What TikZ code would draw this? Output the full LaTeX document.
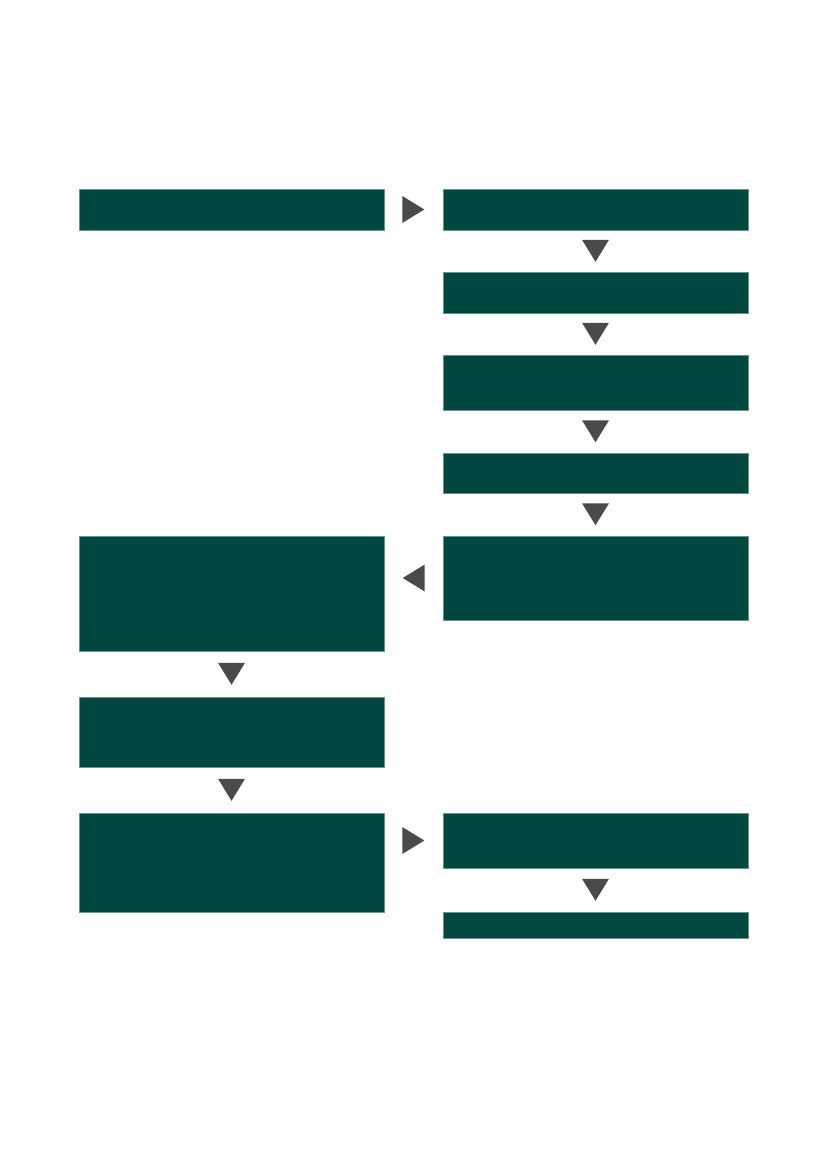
\documentclass[tikz,border=0pt]{standalone}
\usepackage{tikz}
\usetikzlibrary{shapes.geometric,calc}

\definecolor{boxgreen}{RGB}{0,71,64}
\definecolor{arrowgray}{RGB}{74,74,74}

\tikzset{
    stepbox/.style={rectangle,fill=boxgreen,draw=boxgreen!60!white,line width=0.4pt,inner sep=0pt,minimum width=305pt},
    tri/.style={isosceles triangle,isosceles triangle stretches,fill=arrowgray,inner sep=0pt,minimum width=27pt,minimum height=22pt},
    tridown/.style={tri,shape border rotate=-90,yshift=3.67pt},
    triright/.style={tri,shape border rotate=0,xshift=-3.67pt},
    trileft/.style={tri,shape border rotate=180,xshift=3.67pt}
}

\begin{document}
\begin{tikzpicture}[x=1pt,y=-1pt]
\useasboundingbox (0,0) rectangle (827,1169);

\begin{scope}[every node/.style={stepbox}]
    \node[minimum height=41pt] (l1) at (231.5, 209.5) {};
    \node[minimum height=115pt] (l5) at (231.5, 593.5) {};
    \node[minimum height=70pt] (l6) at (231.5, 732) {};
    \node[minimum height=99pt] (l7) at (231.5, 862.5) {};

    \node[minimum height=41pt] (r1) at (595.5, 209.5) {};
    \node[minimum height=41pt] (r2) at (595.5, 292.5) {};
    \node[minimum height=55pt] (r3) at (595.5, 382.5) {};
    \node[minimum height=40pt] (r4) at (595.5, 473) {};
    \node[minimum height=84pt] (r5) at (595.5, 578) {};
    \node[minimum height=55pt] (r7) at (595.5, 840.5) {};
    \node[minimum height=26pt] (r8) at (595.5, 925) {};
\end{scope}

% arrows between the boxes
\node[triright] (a1) at ($(l1.east)!0.5!(r1.west)$) {};
\node[tridown] (a2) at ($(r1.south)!0.5!(r2.north)$) {};
\node[tridown] (a3) at ($(r2.south)!0.5!(r3.north)$) {};
\node[tridown] (a4) at ($(r3.south)!0.5!(r4.north)$) {};
\node[tridown] (a5) at ($(r4.south)!0.5!(r5.north)$) {};
\node[trileft] (a6) at ($(r5.west)!0.5!(l5.east |- r5.west)$) {};
\node[tridown] (a7) at ($(l5.south)!0.5!(l6.north)$) {};
\node[tridown] (a8) at ($(l6.south)!0.5!(l7.north)$) {};
\node[triright] (a9) at ($(r7.west)!0.5!(l7.east |- r7.west)$) {};
\node[tridown] (a10) at ($(r7.south)!0.5!(r8.north)$) {};

\end{tikzpicture}
\end{document}
